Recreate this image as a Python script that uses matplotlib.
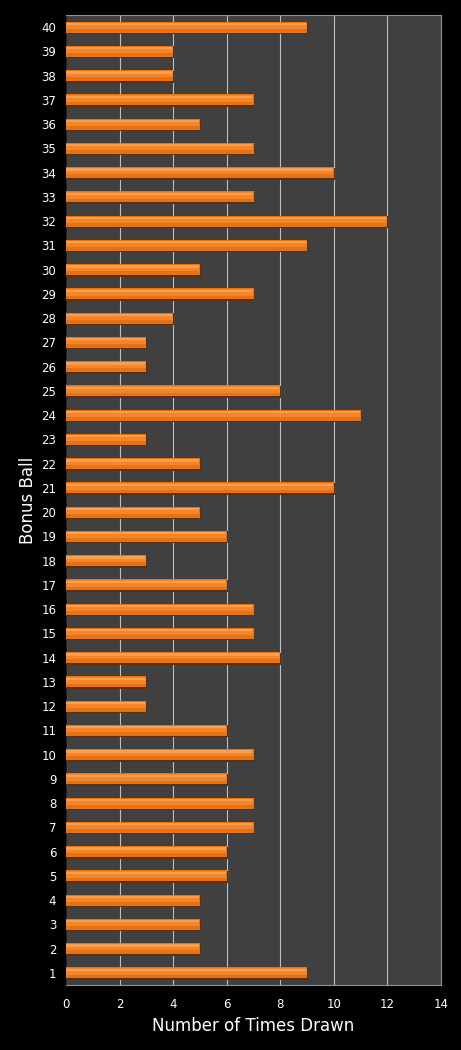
import matplotlib.pyplot as plt
import numpy as np

balls = list(range(1, 41))
times_drawn = [9, 5, 5, 5, 6, 6, 7, 7, 6, 7,
               6, 3, 3, 8, 7, 7, 6, 3, 6, 5,
               10, 5, 3, 11, 8, 3, 3, 4, 7, 5,
               9, 12, 7, 10, 7, 5, 7, 4, 4, 9]
x_ticks = [0, 2, 4, 6, 8, 10, 12, 14]

fig = plt.figure(figsize=(4.61, 10.5), dpi=100)
fig.patch.set_facecolor("black")
ax = fig.add_axes([0.1432, 0.0619, 0.8134, 0.9238])
ax.set_facecolor("#404040")

y = np.array(balls)
vals = np.array(times_drawn)
# shaded bar: dark shadow, orange body with gradient-ish strips
ax.barh(y - 0.04, vals + 0.03, height=0.5, color="#5E2E08", zorder=3)
ax.barh(y, vals, height=0.46, color="#E8720F", zorder=4)
ax.barh(y + 0.06, vals - 0.02, height=0.26, color="#F5852A", zorder=5)
ax.barh(y + 0.13, vals - 0.04, height=0.1, color="#F8A050", zorder=6)

ax.set_xlim(0, 14)
ax.set_ylim(0.5, 40.5)
ax.set_xticks(x_ticks)
ax.set_yticks(balls)
ax.set_yticklabels([str(b) for b in balls])
ax.tick_params(colors="white", labelsize=8.5, length=0, pad=7)
ax.tick_params(axis="x", pad=9)
ax.xaxis.grid(True, color="#BFBFBF", linewidth=0.8, zorder=1)
ax.set_axisbelow(True)
for s in ax.spines.values():
    s.set_color("#909090")
    s.set_linewidth(0.8)
ax.spines["left"].set_color("#202020")

ax.set_xlabel("Number of Times Drawn", color="white", fontsize=12, labelpad=5)
ax.set_ylabel("Bonus Ball", color="white", fontsize=12, labelpad=3)

fig.savefig("out.png", dpi=100, facecolor="black")
